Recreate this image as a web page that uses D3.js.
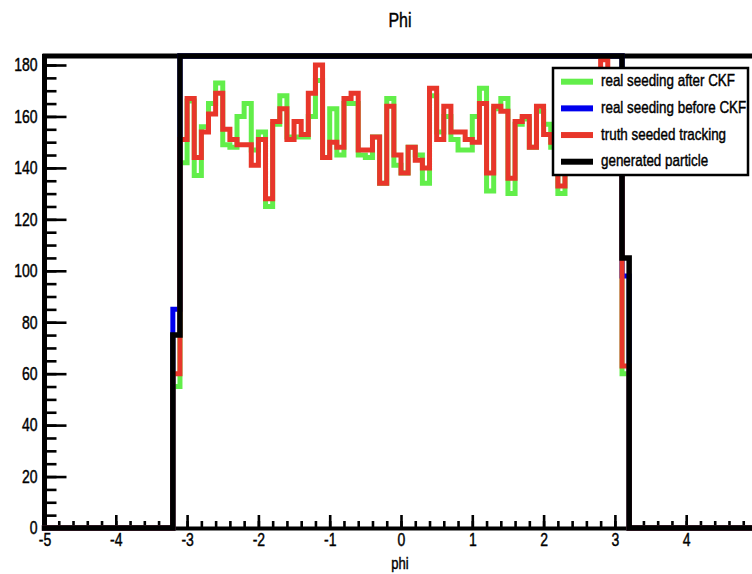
<!DOCTYPE html>
<html><head><meta charset="utf-8">
<script src="https://cdn.jsdelivr.net/npm/d3@7"></script>
<style>
body{margin:0;background:#fff;}
svg{display:block;}
text{font-family:"Liberation Sans",Arial,Helvetica,sans-serif;fill:#000;stroke:#000;stroke-width:0.35px;}
</style>
</head><body>
<svg id="c" width="752" height="574"></svg>
<script>
// ---------- data ----------
const chartTitle = "Phi";
const xTitle = "phi";
const binLow = -5, binHigh = 5;      // histogram range, 100 bins of 0.1
const yMax = 183.5;
const xTickValues = [-5,-4,-3,-2,-1,0,1,2,3,4,5];
const yTickValues = [0,20,40,60,80,100,120,140,160,180];
const seriesNames = ["real seeding after CKF","real seeding before CKF","truth seeded tracking","generated particle"];
const seriesColors = ["#62ee4a","#0000ee","#e8362a","#000000"];

const realAfterCKF = [
 0,0,0,0,0,0,0,0,0,0,0,0,0,0,0,0,0,0,
 55,142,166,137,156,165,173,149,148,160,
 165,147,154,125,157,168,152,152,152,160,
 174,144,163,145,165,165,145,144,152,134,
 167,141,138,148,145,134,168,154,160,151,
 147,147,160,171,131,163,167,130,157,159,
 148,162,157,148,130,152,155,148,163,150,
 172,154,150,60,
 0,0,0,0,0,0,0,0,0,0,0,0,0,0,0,0,0,0];

const realBeforeCKF = [
 0,0,0,0,0,0,0,0,0,0,0,0,0,0,0,0,0,0,
 85,301,296,310,305,298,312,303,299,307,
 296,304,309,300,297,311,302,306,298,301,
 308,295,303,310,299,304,297,306,301,309,
 300,296,305,302,311,298,303,307,299,304,
 296,310,301,305,298,302,309,297,306,300,
 303,299,308,296,304,301,307,300,305,298,
 302,306,300,98,
 0,0,0,0,0,0,0,0,0,0,0,0,0,0,0,0,0,0];

const truthSeeded = [
 0,0,0,0,0,0,0,0,0,0,0,0,0,0,0,0,0,0,
 60,151,167,144,154,161,169,155,151,149,
 149,141,151,128,158,163,151,158,153,169,
 180,144,150,148,167,169,147,147,152,134,
 164,145,138,148,143,140,171,151,164,154,
 154,151,150,165,138,164,162,136,158,160,
 148,164,153,150,133,150,158,145,160,152,
 182,150,155,63,
 0,0,0,0,0,0,0,0,0,0,0,0,0,0,0,0,0,0];

const generated = [
 0,0,0,0,0,0,0,0,0,0,0,0,0,0,0,0,0,0,
 75,318,314,322,317,320,312,319,316,321,
 315,318,323,313,317,320,316,322,314,319,
 321,316,318,312,320,317,323,315,319,316,
 322,314,318,320,313,317,321,316,319,315,
 318,322,314,320,316,319,313,321,317,318,
 315,320,316,322,314,319,317,321,315,318,
 320,316,319,105,
 0,0,0,0,0,0,0,0,0,0,0,0,0,0,0,0,0,0];

// ---------- drawing ----------
const svg = d3.select("#c");
const x = d3.scaleLinear().domain([binLow, binHigh]).range([44.5, 757.5]);
const y = d3.scaleLinear().domain([0, yMax]).range([528, 56]);
const SY = 1.3; // vertical stretch of glyphs

// axes (ticks inward)
const yAxis = svg.append("g").attr("transform",`translate(${x(binLow)},0)`)
  .call(d3.axisLeft(y).tickValues(yTickValues).tickSize(-22).tickPadding(7).tickFormat(d3.format("d")));
const yMinor = svg.append("g").attr("transform",`translate(${x(binLow)},0)`)
  .call(d3.axisLeft(y).tickValues(d3.range(0, yMax, 5)).tickSize(-12).tickFormat(""));
const xAxis = svg.append("g").attr("transform",`translate(0,${y(0)})`)
  .call(d3.axisBottom(x).tickValues(xTickValues).tickSize(-13).tickPadding(4).tickFormat(d=>String(d)));
const xMinor = svg.append("g").attr("transform",`translate(0,${y(0)})`)
  .call(d3.axisBottom(x).tickValues(d3.range(binLow, binHigh+0.001, 0.2)).tickSize(-7).tickFormat(""));
[yAxis,yMinor,xAxis,xMinor].forEach(g=>{
  g.select(".domain").remove();
  g.selectAll(".tick line").attr("stroke","#000").attr("stroke-width",2.6);
  g.selectAll(".tick text").attr("font-size",14).attr("fill","#000")
    .attr("font-family",'"Liberation Sans",Arial,sans-serif')
    .attr("transform",`scale(1,${SY})`);
});

// frame
const frame = svg.append("g").attr("stroke","#000").attr("fill","none");
frame.append("line").attr("x1",x(binLow)).attr("x2",x(binLow)).attr("y1",y(yMax)-2).attr("y2",y(0)+2).attr("stroke-width",5);
frame.append("line").attr("x1",x(binLow)-2).attr("x2",x(binHigh)).attr("y1",y(yMax)).attr("y2",y(yMax)).attr("stroke-width",5);
frame.append("line").attr("x1",x(binLow)).attr("x2",x(binHigh)).attr("y1",y(0)+0.5).attr("y2",y(0)+0.5).attr("stroke-width",4);

// histograms
const allSeries = [realAfterCKF, realBeforeCKF, truthSeeded, generated];
function stepPoints(vals){
  const bw = (binHigh - binLow) / vals.length;
  const pts = [];
  vals.forEach((v,i)=>{
    const lo = binLow + i*bw, hi = lo + bw, vv = Math.min(v, yMax);
    pts.push([x(lo), y(vv)], [x(hi), y(vv)]);
  });
  return pts;
}
const line = d3.line();
allSeries.forEach((vals,k)=>{
  svg.append("path").attr("d", line(stepPoints(vals)))
    .attr("fill","none").attr("stroke",seriesColors[k]).attr("stroke-width",k===3?5.5:5)
    .attr("stroke-linejoin","miter").attr("stroke-linecap","square");
});

// title and axis title
svg.append("text").attr("transform",`translate(400,27) scale(1,${SY})`)
  .attr("text-anchor","middle").attr("font-size",16).text(chartTitle);
svg.append("text").attr("transform",`translate(400,569) scale(1,${SY})`)
  .attr("text-anchor","middle").attr("font-size",13).text(xTitle);

// legend
const lg = svg.append("g");
lg.append("rect").attr("x",553).attr("y",68).attr("width",195).attr("height",107)
  .attr("fill","#fff").attr("stroke","#000").attr("stroke-width",2.5);
seriesNames.forEach((name,k)=>{
  const cy = 81.7 + k*26.67;
  lg.append("line").attr("x1",561).attr("x2",593).attr("y1",cy).attr("y2",cy)
    .attr("stroke",seriesColors[k]).attr("stroke-width",6);
  lg.append("text").attr("transform",`translate(601,${cy+4.5}) scale(1,${SY})`)
    .attr("font-size",13.4).text(name);
});
</script>
</body></html>
